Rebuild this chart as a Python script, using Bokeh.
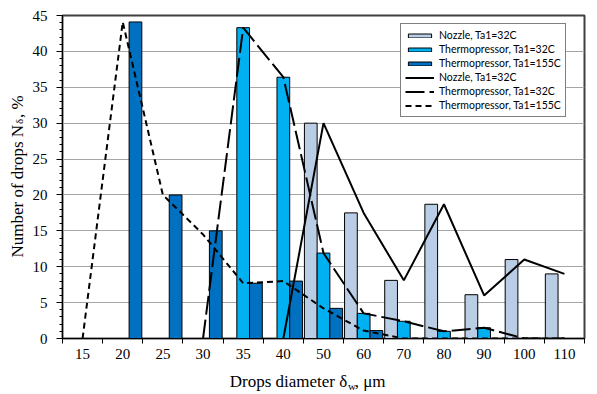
import numpy as np
from bokeh.plotting import figure
from bokeh.models import Range1d, FixedTicker, LinearAxis, Legend, LegendItem
from bokeh.embed import file_html
from bokeh.resources import INLINE

# ---- data ----
categories = ["15", "20", "25", "30", "35", "40", "50", "60", "70", "80", "90", "100", "110"]
nozzle_bars = [0, 0, 0, 0, 0, 0, 30.0, 17.5, 8.1, 18.7, 6.1, 11.0, 9.0]
thermo32_bars = [0, 0, 0, 0, 43.3, 36.4, 11.9, 3.5, 2.4, 1.0, 1.5, 0, 0]
thermo155_bars = [0, 44.1, 20.0, 15.0, 7.7, 8.0, 4.2, 1.1, 0, 0, 0, 0, 0]
nan = float("nan")
nozzle_line = [nan, nan, nan, nan, nan, 0, 30.0, 17.5, 8.1, 18.7, 6.0, 11.0, 9.0]
thermo32_line = [nan, nan, nan, 0, 43.3, 36.4, 11.9, 3.5, 2.4, 1.0, 1.5, 0, 0]
thermo155_line = [0, 44.1, 20.0, 14.5, 7.7, 8.0, 4.2, 1.1, 0, 0, 0, 0, 0]
y_ticks = [0, 5, 10, 15, 20, 25, 30, 35, 40, 45]

series_labels = ["Nozzle, Ta1=32C", "Thermopressor, Ta1=32C", "Thermopressor, Ta1=155C"]
x_title = ["Drops diameter \u03b4", "w", ", \u03bcm"]
y_title = ["Number of drops N", "\u03b4", ", %"]

x = np.arange(len(categories), dtype=float)

p = figure(width=597, height=394, output_backend="svg", toolbar_location=None,
           x_range=Range1d(-0.5, len(categories) - 0.5), y_range=Range1d(0, 45))
p.min_border_left = 62
p.min_border_right = 13
p.min_border_top = 15
p.min_border_bottom = 56
p.background_fill_color = "white"
p.border_fill_color = "white"
p.outline_line_color = "#404040"
p.outline_line_width = 2

# grid
p.xgrid.visible = False
p.ygrid.ticker = FixedTicker(ticks=y_ticks)
p.ygrid.grid_line_color = "#a6a6a6"
p.ygrid.grid_line_width = 1

# bars
bw = 0.317
r_b1 = p.vbar(x=x - bw, top=nozzle_bars, width=bw, fill_color="#b9cde5",
              line_color="black", line_width=1)
r_b2 = p.vbar(x=x, top=thermo32_bars, width=bw, fill_color="#00b0f0",
              line_color="black", line_width=1)
r_b3 = p.vbar(x=x + bw, top=thermo155_bars, width=bw, fill_color="#0070c0",
              line_color="black", line_width=1)

# lines
r_l1 = p.line(x=x, y=np.array(nozzle_line, dtype=float), line_color="black", line_width=2)
r_l2 = p.line(x=x, y=np.array(thermo32_line, dtype=float), line_color="black", line_width=2,
              line_dash="19 5")
r_l3 = p.line(x=x, y=np.array(thermo155_line, dtype=float), line_color="black", line_width=2,
              line_dash="6 4")

# axes
serif = "Liberation Serif"
xa = p.xaxis[0]
xa.ticker = FixedTicker(ticks=list(x), minor_ticks=list(np.arange(len(categories) + 1) - 0.5))
xa.major_label_overrides = {int(i): c for i, c in enumerate(categories)}
xa.major_tick_out = 0
xa.major_tick_in = 0
xa.minor_tick_out = 5
xa.minor_tick_in = 0
xa.major_label_standoff = 5
xa.major_label_text_font = serif
xa.major_label_text_font_size = "15px"
xa.major_label_text_color = "black"
xa.axis_line_color = "black"
xa.axis_line_width = 1
xa.major_tick_line_color = "black"
xa.minor_tick_line_color = "black"

ya = p.yaxis[0]
ya.ticker = FixedTicker(ticks=y_ticks, minor_ticks=list(range(0, 46)))
ya.major_tick_out = 6
ya.major_tick_in = 0
ya.minor_tick_out = 3
ya.minor_tick_in = 0
ya.major_label_standoff = 9
ya.major_label_text_font = serif
ya.major_label_text_font_size = "15px"
ya.major_label_text_color = "black"
ya.axis_line_color = "black"
ya.axis_line_width = 1
ya.major_tick_line_color = "black"
ya.minor_tick_line_color = "black"


# axis titles with subscripts: text-only helper axes (no line, no ticks)
def text_axis(place, positions, texts, size, standoff, vertical=False):
    ax = LinearAxis(ticker=FixedTicker(ticks=positions, minor_ticks=[]),
                    major_label_overrides=dict(zip(positions, texts)),
                    axis_line_color=None, major_tick_line_color=None,
                    minor_tick_line_color=None,
                    major_tick_out=0, major_tick_in=0, minor_tick_out=0, minor_tick_in=0,
                    major_label_standoff=standoff,
                    major_label_text_font=serif, major_label_text_font_size=size,
                    major_label_text_color="black")
    if vertical:
        ax.major_label_orientation = "vertical"
    p.add_layout(ax, place)
    return ax

# x title: main pieces, then subscript row pulled up
text_axis("below", [5.129, 7.16], [x_title[0], x_title[2]], "17px", 10)
text_axis("below", [6.71], [x_title[1]], "11px", -14)
# y title: main pieces, then subscript column pulled in
text_axis("left", [20.52, 32.3], [y_title[0], y_title[2]], "17px", 2, vertical=True)
text_axis("left", [30.23], [y_title[1]], "11px", -20, vertical=True)

# legend
legend = Legend(items=[
    LegendItem(label=series_labels[0], renderers=[r_b1]),
    LegendItem(label=series_labels[1], renderers=[r_b2]),
    LegendItem(label=series_labels[2], renderers=[r_b3]),
    LegendItem(label=series_labels[0], renderers=[r_l1]),
    LegendItem(label=series_labels[1], renderers=[r_l2]),
    LegendItem(label=series_labels[2], renderers=[r_l3]),
], location=(338, 221))
legend.label_text_font = "Lato"
legend.label_text_font_size = "10.5px"
legend.label_text_color = "black"
legend.glyph_width = 29
legend.glyph_height = 5
legend.label_height = 14
legend.label_standoff = 5
legend.spacing = 0
legend.padding = 4
legend.margin = 0
legend.border_line_color = "black"
legend.border_line_width = 1
legend.background_fill_color = "white"
legend.background_fill_alpha = 1.0
p.add_layout(legend)

open("out.html", "w").write(file_html(p, INLINE))
